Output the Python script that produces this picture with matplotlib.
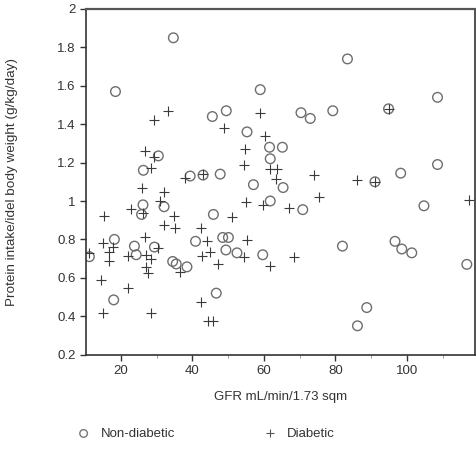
import numpy as np
import matplotlib
matplotlib.use("Agg")
import matplotlib.pyplot as plt
from matplotlib.ticker import MultipleLocator

plt.rcParams['font.family'] = ['Liberation Sans', 'DejaVu Sans']

# non-diabetic patients (circles)
gfr_nd = [34.7, 18.5, 59.0, 49.5, 45.6, 55.3, 70.4, 73.0, 61.6, 65.2,
          61.8, 83.4, 79.3, 94.9, 108.6, 30.5, 26.3, 39.4, 43.0, 47.8,
          57.1, 65.4, 61.8, 70.9, 26.2, 25.8, 32.1, 45.9, 98.3, 91.1,
          108.6, 104.8, 18.2, 23.8, 24.3, 29.4, 11.2, 40.9, 48.5, 50.1,
          49.4, 52.5, 59.7, 34.5, 35.5, 38.5, 18.0, 46.7, 82.0, 96.7,
          98.6, 101.4, 116.8, 88.8, 86.2]
prot_nd = [1.85, 1.57, 1.58, 1.47, 1.44, 1.36, 1.46, 1.43, 1.28, 1.28,
           1.22, 1.74, 1.47, 1.48, 1.54, 1.235, 1.16, 1.13, 1.135, 1.14,
           1.085, 1.07, 1.0, 0.955, 0.98, 0.93, 0.97, 0.93, 1.145, 1.10,
           1.19, 0.975, 0.80, 0.765, 0.72, 0.76, 0.71, 0.79, 0.81, 0.81,
           0.745, 0.73, 0.72, 0.685, 0.672, 0.657, 0.485, 0.52, 0.765, 0.79,
           0.75, 0.73, 0.67, 0.445, 0.35]

# diabetic patients (plus signs)
gfr_d = [33.1, 29.4, 48.9, 59.0, 60.2, 54.7, 26.9, 29.4, 28.4, 25.9,
         22.9, 26.3, 15.4, 31.0, 32.1, 38.0, 43.1, 54.5, 61.8, 63.8,
         63.3, 74.1, 75.5, 86.0, 91.1, 54.9, 59.7, 67.1, 34.9, 32.2,
         35.1, 26.9, 15.1, 17.9, 16.8, 16.8, 11.2, 22.0, 27.1, 28.5,
         30.5, 27.1, 27.6, 14.5, 22.0, 15.0, 28.5, 42.5, 51.0, 44.1,
         55.4, 45.0, 42.6, 47.1, 54.5, 36.6, 61.8, 68.5, 42.5, 44.3,
         45.9, 94.9, 117.5]
prot_d = [1.47, 1.42, 1.38, 1.46, 1.34, 1.27, 1.26, 1.23, 1.17, 1.066,
          0.96, 0.94, 0.92, 1.0, 1.045, 1.12, 1.14, 1.19, 1.165, 1.165,
          1.115, 1.135, 1.02, 1.11, 1.10, 0.995, 0.978, 0.965, 0.92, 0.873,
          0.86, 0.815, 0.78, 0.76, 0.735, 0.685, 0.727, 0.716, 0.72, 0.70,
          0.755, 0.655, 0.625, 0.59, 0.548, 0.415, 0.415, 0.86, 0.916, 0.792,
          0.795, 0.732, 0.714, 0.67, 0.71, 0.63, 0.664, 0.71, 0.473, 0.373,
          0.373, 1.48, 1.007]

fig = plt.figure(figsize=(4.76, 4.5), dpi=100)
ax = fig.add_axes([0.181, 0.212, 0.817, 0.768])

ax.scatter(gfr_nd, prot_nd, s=48, facecolors='none', edgecolors='#6e6e6e',
           linewidths=1.0, label='Non-diabetic')
ax.scatter(gfr_d, prot_d, s=55, marker='+', color='#3a3a3a',
           linewidths=0.8, label='Diabetic')

ax.set_xlim(10.3, 119.1)
ax.set_ylim(0.2, 2.0)
ax.xaxis.set_major_locator(MultipleLocator(20))
ax.xaxis.set_minor_locator(MultipleLocator(10))
ax.yaxis.set_major_locator(MultipleLocator(0.2))
ax.set_yticklabels([f'{v:g}' for v in ax.get_yticks()])

for s in ax.spines.values():
    s.set_color('#333333')
    s.set_linewidth(1.2)
ax.spines['top'].set_color('#555555')
ax.spines['top'].set_linewidth(1.6)
ax.tick_params(axis='both', which='major', direction='out', length=4,
               width=1.0, color='#333333', labelsize=9.5, labelcolor='#333333')
ax.tick_params(axis='x', which='minor', direction='out', length=2,
               width=0.6, color='#888888')

ax.set_xlabel('GFR mL/min/1.73 sqm', fontsize=9.5, color='#333333', labelpad=10)
ax.set_ylabel('Protein intake/idel body weight (g/kg/day)', fontsize=9.7,
              color='#333333')
ax.yaxis.set_label_coords(-0.175, 0.5)

h_nd = ax.scatter([], [], s=30, facecolors='none', edgecolors='#777777', linewidths=1.0)
h_d = ax.scatter([], [], s=40, marker='+', color='#555555', linewidths=0.8)
fig.legend([h_nd, h_d], ['Non-diabetic', 'Diabetic'], loc='center left',
           bbox_to_anchor=(0.123, 0.036), ncol=2, frameon=False, fontsize=9.5,
           handletextpad=0.3, columnspacing=6.2, labelcolor='#333333')

fig.savefig('out.png', dpi=100)
